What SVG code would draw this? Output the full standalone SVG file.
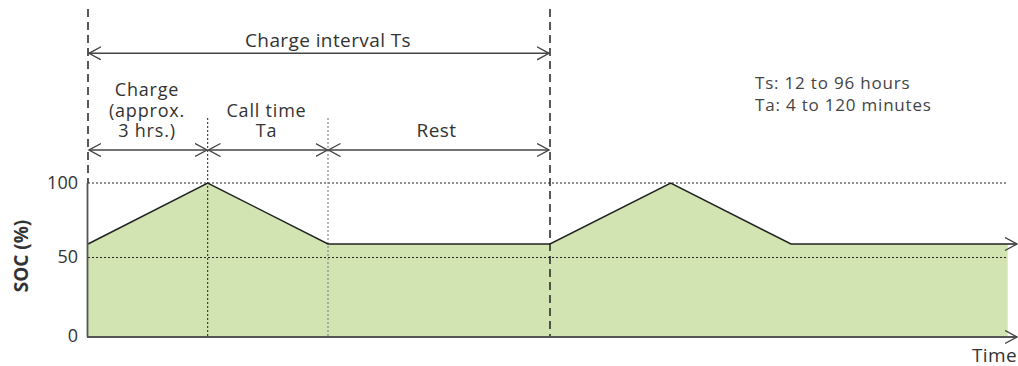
<svg xmlns="http://www.w3.org/2000/svg" width="1018" height="366" viewBox="0 0 1018 366">
<style>
.t{font-family:"Open Sans","Noto Sans",sans-serif;font-size:19px;fill:#333;letter-spacing:0.4px}
.s{font-family:"Open Sans","Noto Sans",sans-serif;font-size:18px;fill:#333;letter-spacing:0.8px}
.n{font-family:"Open Sans","Noto Sans",sans-serif;font-size:18px;fill:#333}
.r{font-family:"Open Sans","Noto Sans",sans-serif;font-size:17px;fill:#444;letter-spacing:0.8px}
.b{font-family:"Open Sans","Noto Sans",sans-serif;font-size:19px;font-weight:bold;fill:#333}
.dim{stroke:#444;stroke-width:1.4;fill:none}
.dash{stroke:#222;stroke-width:1.5;stroke-dasharray:8,5;fill:none}
.dot{stroke:#222;stroke-width:1;stroke-dasharray:2,2;fill:none}
.gdot{stroke:#888;stroke-width:1.2;stroke-dasharray:2,2;fill:none}
</style>
<defs>
<marker id="ah" markerWidth="14" markerHeight="16" refX="12" refY="7" orient="auto-start-reverse" markerUnits="userSpaceOnUse">
<path d="M0,0.5 L12,7 L0,13.5" fill="none" stroke="#444" stroke-width="1.4"/>
</marker>
</defs>
<g id="chart">
<polygon points="88,244 207.7,183 328,244 550,244 670.7,183 791,244 1007.7,244 1007.7,337 88,337" fill="#d1e4b1"/>
<line class="dot" x1="88" y1="183" x2="1006" y2="183"/>
<line class="dot" x1="88" y1="257.5" x2="1006" y2="257.5"/>
<line class="dot" x1="207.7" y1="118" x2="207.7" y2="337"/>
<line class="gdot" x1="328" y1="118" x2="328" y2="337"/>
<line class="dash" x1="88" y1="9" x2="88" y2="183"/>
<line class="dash" x1="550" y1="9" x2="550" y2="337"/>
<polyline points="88,244 207.7,183 328,244 550,244 670.7,183 791,244 1017,244" fill="none" stroke="#222" stroke-width="1.5" marker-end="url(#ah)"/>
<line x1="87.5" y1="183" x2="87.5" y2="337" stroke="#555" stroke-width="1.8"/>
<line x1="87" y1="337" x2="1017" y2="337" stroke="#555" stroke-width="1.8" marker-end="url(#ah)"/>
</g>
<g id="axis-labels">
<text class="n" x="78" y="188.5" text-anchor="end">100</text>
<text class="n" x="78" y="263" text-anchor="end">50</text>
<text class="n" x="78" y="342" text-anchor="end">0</text>
<text class="b" transform="translate(27.5,256) rotate(-90)" text-anchor="middle">SOC (%)</text>
<text class="t" x="1017" y="361.5" text-anchor="end">Time</text>
</g>
<g id="connectors">
<line class="dim" x1="89" y1="53.3" x2="549" y2="53.3" marker-start="url(#ah)" marker-end="url(#ah)"/>
<line class="dim" x1="89" y1="150" x2="207" y2="150" marker-start="url(#ah)" marker-end="url(#ah)"/>
<line class="dim" x1="208.5" y1="150" x2="327.5" y2="150" marker-start="url(#ah)" marker-end="url(#ah)"/>
<line class="dim" x1="328.5" y1="150" x2="549" y2="150" marker-start="url(#ah)" marker-end="url(#ah)"/>
</g>
<g id="label-interval">
<text class="t" x="328" y="46.5" text-anchor="middle">Charge interval Ts</text>
</g>
<g id="label-charge">
<text class="s" text-anchor="middle"><tspan x="147" y="95.5">Charge</tspan><tspan x="147" y="116.5">(approx.</tspan><tspan x="147" y="137">3 hrs.)</tspan></text>
</g>
<g id="label-call">
<text class="s" text-anchor="middle"><tspan x="266.5" y="116.5">Call time</tspan><tspan x="266.5" y="137">Ta</tspan></text>
</g>
<g id="label-rest">
<text class="t" x="436.5" y="137" text-anchor="middle">Rest</text>
</g>
<g id="note">
<text class="r"><tspan x="755" y="88.5">Ts: 12 to 96 hours</tspan><tspan x="755" y="110.5">Ta: 4 to 120 minutes</tspan></text>
</g>
</svg>
